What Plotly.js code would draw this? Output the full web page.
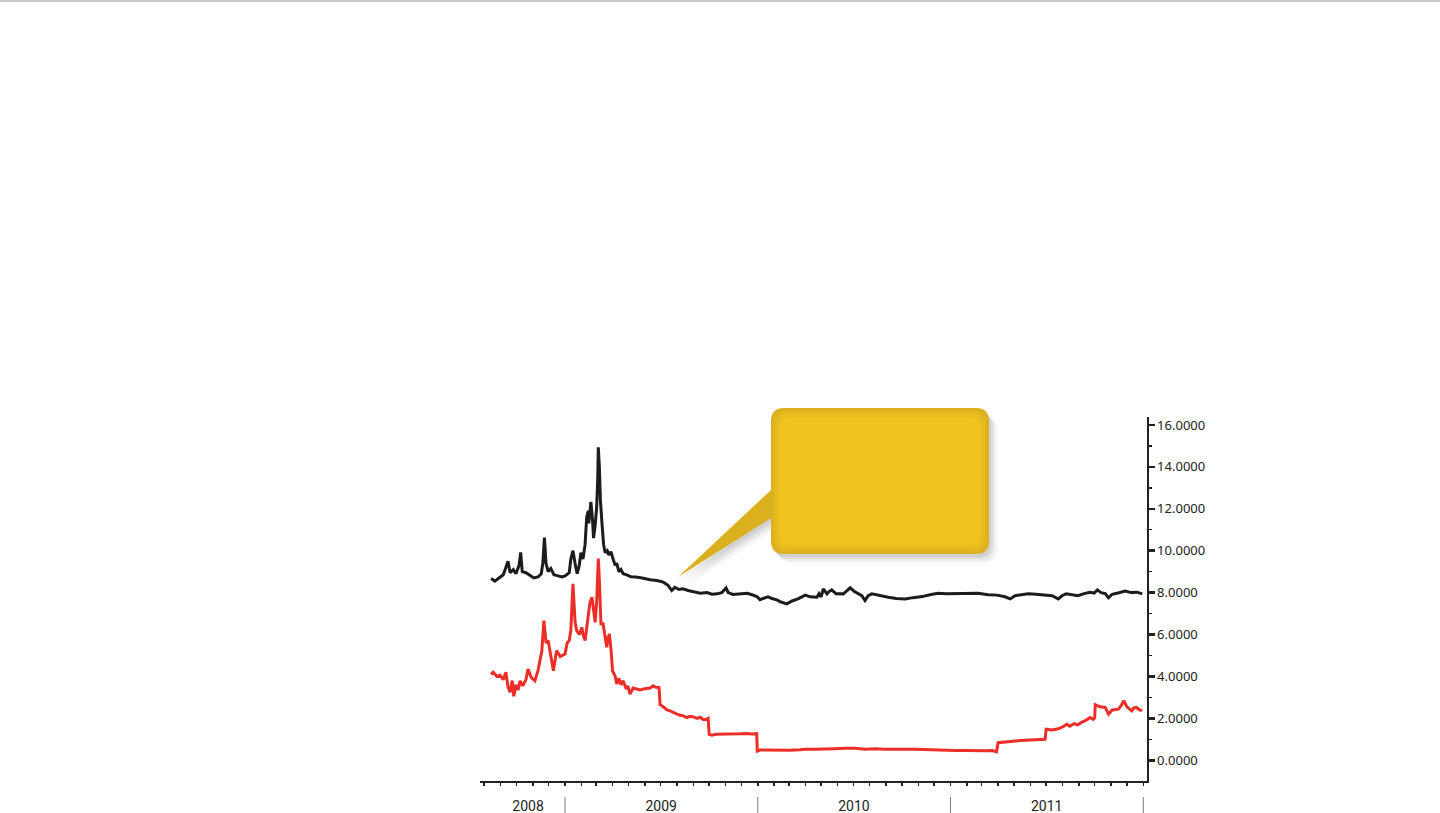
<!DOCTYPE html>
<html>
<head>
<meta charset="utf-8">
<script src="https://cdn.plot.ly/plotly-3.0.1.min.js"></script>
<style>
  html, body { margin: 0; padding: 0; background: #ffffff; }
  #topline { position: absolute; left: 0; top: 0; width: 1440px; height: 2px; background: #c9c9c9; z-index: 5; }
  #chart { width: 1440px; height: 813px; }
</style>
</head>
<body>
<div id="topline"></div>
<div id="chart"></div>
<script>
// ---------- data ----------
const blackDates = [
  '2008-08-14','2008-08-21','2008-08-29','2008-09-06','2008-09-11','2008-09-15','2008-09-19','2008-09-25','2008-09-30','2008-10-06',
  '2008-10-09','2008-10-12','2008-10-19','2008-10-27','2008-11-03','2008-11-11','2008-11-17','2008-11-20','2008-11-23','2008-11-26',
  '2008-11-30','2008-12-05','2008-12-11','2008-12-19','2008-12-26','2009-01-01','2009-01-09','2009-01-12','2009-01-16','2009-01-20',
  '2009-01-24','2009-01-28','2009-01-31','2009-02-04','2009-02-08','2009-02-11','2009-02-14','2009-02-15','2009-02-19','2009-02-22',
  '2009-02-24','2009-02-27','2009-03-02','2009-03-04','2009-03-05','2009-03-07','2009-03-09','2009-03-12','2009-03-15','2009-03-18',
  '2009-03-22','2009-03-25','2009-03-29','2009-04-02','2009-04-06','2009-04-09','2009-04-13','2009-04-17','2009-04-21','2009-04-28',
  '2009-05-06','2009-05-15','2009-05-27','2009-06-11','2009-06-24','2009-07-06','2009-07-15','2009-07-22','2009-07-28','2009-08-05',
  '2009-08-12','2009-08-22','2009-08-31','2009-09-14','2009-09-27','2009-10-06','2009-10-16','2009-10-25','2009-11-02','2009-11-06',
  '2009-11-15','2009-11-28','2009-12-12','2009-12-21','2009-12-31','2010-01-05','2010-01-13','2010-01-20','2010-01-28','2010-02-06',
  '2010-02-14','2010-02-25','2010-03-07','2010-03-18','2010-04-01','2010-04-10','2010-04-23','2010-04-27','2010-05-01','2010-05-05',
  '2010-05-12','2010-05-16','2010-05-21','2010-05-29','2010-06-12','2010-06-19','2010-06-25','2010-07-03','2010-07-10','2010-07-17',
  '2010-07-23','2010-07-29','2010-08-05','2010-08-20','2010-09-05','2010-09-20','2010-10-07','2010-10-22','2010-11-08','2010-11-23',
  '2010-12-08','2010-12-24','2011-01-10','2011-01-29','2011-02-22','2011-03-13','2011-03-30','2011-04-14','2011-04-24','2011-05-03',
  '2011-05-17','2011-05-28','2011-06-12','2011-06-27','2011-07-12','2011-07-24','2011-07-31','2011-08-08','2011-08-19','2011-08-30',
  '2011-09-11','2011-09-22','2011-09-30','2011-10-06','2011-10-13','2011-10-21','2011-10-27','2011-11-03','2011-11-14','2011-11-28',
  '2011-12-09','2011-12-20','2011-12-30'
];
const blackValues = [
  8.67, 8.55, 8.70, 8.85, 9.20, 9.50, 8.95, 9.10, 8.90, 9.30,
  9.92, 9.00, 8.95, 8.80, 8.70, 8.75, 8.90, 9.40, 10.62, 9.40,
  9.00, 9.15, 8.85, 8.80, 8.75, 8.80, 8.95, 9.60, 10.00, 9.40,
  8.90, 9.30, 9.90, 9.60, 10.30, 11.60, 11.90, 11.30, 12.33, 11.50,
  10.60, 11.20, 12.10, 13.50, 14.93, 14.00, 12.40, 11.30, 10.30, 9.90,
  10.00, 9.80, 9.95, 9.60, 9.30, 9.40, 9.00, 9.10, 8.90, 8.85,
  8.75, 8.74, 8.70, 8.61, 8.58, 8.50, 8.35, 8.10, 8.25, 8.15,
  8.18, 8.10, 8.05, 7.97, 8.00, 7.92, 7.94, 8.00, 8.22, 8.00,
  7.91, 7.95, 7.97, 7.90, 7.80, 7.66, 7.72, 7.80, 7.72, 7.65,
  7.55, 7.46, 7.60, 7.70, 7.88, 7.80, 7.78, 7.95, 7.80, 8.18,
  7.94, 8.05, 8.13, 7.95, 7.94, 8.10, 8.23, 8.05, 7.94, 7.85,
  7.62, 7.85, 7.94, 7.85, 7.78, 7.72, 7.70, 7.76, 7.81, 7.90,
  7.97, 7.94, 7.94, 7.97, 7.97, 7.90, 7.88, 7.80, 7.70, 7.85,
  7.90, 7.94, 7.92, 7.88, 7.85, 7.70, 7.85, 7.94, 7.90, 7.85,
  7.95, 8.02, 7.98, 8.13, 8.00, 7.95, 7.75, 7.92, 7.98, 8.07,
  8.00, 8.02, 7.94
];
const redDates = [
  '2008-08-14','2008-08-18','2008-08-25','2008-08-31','2008-09-06','2008-09-11','2008-09-15','2008-09-19','2008-09-23','2008-09-26',
  '2008-09-30','2008-10-04','2008-10-08','2008-10-13','2008-10-19','2008-10-23','2008-10-29','2008-11-05','2008-11-11','2008-11-15',
  '2008-11-18','2008-11-22','2008-11-26','2008-11-30','2008-12-04','2008-12-10','2008-12-16','2008-12-23','2009-01-01','2009-01-05',
  '2009-01-09','2009-01-12','2009-01-16','2009-01-20','2009-01-23','2009-01-28','2009-02-02','2009-02-04','2009-02-08','2009-02-12',
  '2009-02-14','2009-02-17','2009-02-21','2009-02-23','2009-02-27','2009-03-02','2009-03-04','2009-03-05','2009-03-07','2009-03-10',
  '2009-03-14','2009-03-18','2009-03-21','2009-03-23','2009-03-26','2009-03-29','2009-04-01','2009-04-06','2009-04-09','2009-04-13',
  '2009-04-17','2009-04-21','2009-04-27','2009-04-30','2009-05-04','2009-05-10','2009-05-17','2009-05-23','2009-05-29','2009-06-05',
  '2009-06-11','2009-06-17','2009-06-22','2009-06-28','2009-06-30','2009-07-06','2009-07-13','2009-07-19','2009-07-25','2009-08-01',
  '2009-08-07','2009-08-13','2009-08-20','2009-08-26','2009-09-01','2009-09-08','2009-09-14','2009-09-19','2009-09-26','2009-09-29',
  '2009-10-01','2009-10-06','2009-10-14','2009-10-22','2009-11-03','2009-11-15','2009-11-28','2009-12-10','2009-12-21','2009-12-30',
  '2009-12-31','2010-01-05','2010-01-24','2010-02-12','2010-03-03','2010-03-22','2010-04-01','2010-04-19','2010-05-08','2010-05-27',
  '2010-06-15','2010-07-04','2010-07-23','2010-08-11','2010-08-30','2010-09-18','2010-10-07','2010-10-26','2010-11-14','2010-12-03',
  '2010-12-22','2011-01-10','2011-01-29','2011-02-17','2011-03-07','2011-03-21','2011-03-29','2011-04-01','2011-04-14','2011-04-27',
  '2011-05-12','2011-05-31','2011-06-19','2011-06-29','2011-07-01','2011-07-12','2011-07-24','2011-08-02','2011-08-09','2011-08-15',
  '2011-08-23','2011-08-30','2011-09-07','2011-09-14','2011-09-22','2011-09-28','2011-10-01','2011-10-02','2011-10-11','2011-10-21',
  '2011-10-27','2011-11-03','2011-11-15','2011-11-20','2011-11-25','2011-12-01','2011-12-10','2011-12-14','2011-12-19','2011-12-25',
  '2011-12-30'
];
const redValues = [
  4.10, 4.20, 4.00, 4.05, 3.85, 4.20, 3.50, 3.25, 3.80, 3.05,
  3.60, 3.35, 3.79, 3.55, 3.85, 4.35, 3.95, 3.79, 4.30, 4.75,
  5.20, 6.66, 5.60, 5.71, 5.20, 4.27, 5.23, 4.95, 5.07, 5.60,
  5.71, 6.20, 8.42, 6.60, 6.19, 6.00, 6.34, 6.00, 5.71, 6.60,
  7.14, 7.50, 7.78, 7.40, 6.58, 7.60, 8.80, 9.62, 8.60, 6.51,
  6.51, 5.71, 5.39, 5.80, 6.03, 5.30, 4.27, 4.00, 3.64, 3.90,
  3.60, 3.79, 3.40, 3.55, 3.16, 3.45, 3.40, 3.35, 3.40, 3.42,
  3.45, 3.55, 3.48, 3.47, 2.65, 2.55, 2.40, 2.36, 2.28, 2.20,
  2.15, 2.12, 2.04, 2.10, 2.07, 2.00, 2.05, 1.95, 1.96, 2.00,
  1.24, 1.20, 1.24, 1.24, 1.24, 1.27, 1.26, 1.28, 1.25, 1.27,
  0.44, 0.49, 0.48, 0.50, 0.48, 0.50, 0.53, 0.52, 0.55, 0.55,
  0.57, 0.57, 0.53, 0.55, 0.53, 0.54, 0.53, 0.52, 0.50, 0.50,
  0.48, 0.46, 0.47, 0.45, 0.45, 0.46, 0.40, 0.84, 0.88, 0.92,
  0.94, 0.97, 0.99, 1.00, 1.48, 1.45, 1.50, 1.60, 1.72, 1.62,
  1.75, 1.69, 1.82, 1.90, 2.04, 1.95, 2.02, 2.65, 2.55, 2.52,
  2.20, 2.40, 2.44, 2.60, 2.84, 2.55, 2.36, 2.50, 2.52, 2.40,
  2.39
];
const yearLabels = ['2008', '2009', '2010', '2011'];
const yearLabelDates = ['2008-10-23', '2009-07-02', '2010-07-02', '2011-07-02'];
const yearBoundaries = ['2009-01-01', '2010-01-01', '2011-01-01', '2012-01-01'];

// ---------- layout geometry ----------
const W = 1440, H = 813;
const PL = 480, PR = 1147, PT = 417, PB = 781;
const px = x => (x - PL) / (PR - PL);
const py = y => (PB - y) / (PB - PT);

function bubblePath(L, T, R, B, r, dx, dy, withPointer) {
  const X = v => px(v + dx).toFixed(5);
  const Y = v => py(v + dy).toFixed(5);
  let p = 'M' + X(L + r) + ',' + Y(T) +
    ' L' + X(R - r) + ',' + Y(T) +
    ' Q' + X(R) + ',' + Y(T) + ' ' + X(R) + ',' + Y(T + r) +
    ' L' + X(R) + ',' + Y(B - r) +
    ' Q' + X(R) + ',' + Y(B) + ' ' + X(R - r) + ',' + Y(B) +
    ' L' + X(L + r) + ',' + Y(B) +
    ' Q' + X(L) + ',' + Y(B) + ' ' + X(L) + ',' + Y(B - r);
  if (withPointer) {
    p += ' L' + X(L) + ',' + Y(518) +
      ' L' + X(678) + ',' + Y(577) +
      ' L' + X(L) + ',' + Y(490);
  }
  p += ' L' + X(L) + ',' + Y(T + r) +
    ' Q' + X(L) + ',' + Y(T) + ' ' + X(L + r) + ',' + Y(T) + ' Z';
  return p;
}

const shapes = [];
// soft shadow
[[8, 9, 0.035], [6, 7, 0.045], [4, 5, 0.055], [2, 3, 0.06]].forEach(s => {
  shapes.push({type: 'path', xref: 'paper', yref: 'paper', layer: 'above',
    path: bubblePath(771, 408, 989, 554, 13, s[0], s[1], true),
    fillcolor: 'rgba(0,0,0,' + s[2] + ')', line: {width: 0}});
});
// bubble body: darker rim fading to a lighter centre
shapes.push({type: 'path', xref: 'paper', yref: 'paper', layer: 'above',
  path: bubblePath(771, 408, 989, 554, 13, 0, 0, true),
  fillcolor: '#dbb01f', line: {width: 0}});
[[2, '#e0b41f'], [4, '#e5b81f'], [6, '#e9bc1f'], [8, '#edc01f'], [10, '#f0c31f']].forEach(s => {
  const i = s[0];
  shapes.push({type: 'path', xref: 'paper', yref: 'paper', layer: 'above',
    path: bubblePath(771 + i, 408 + i, 989 - i, 554 - i, Math.max(13 - i * 0.5, 6), 0, 0, false),
    fillcolor: s[1], line: {width: 0}});
});

// year separators below the axis
yearBoundaries.forEach(d => {
  shapes.push({type: 'line', xref: 'x', yref: 'paper', x0: d, x1: d,
    y0: py(797), y1: py(813), line: {color: '#777777', width: 1}});
});

const traces = [
  {x: blackDates, y: blackValues, type: 'scatter', mode: 'lines',
   line: {color: '#1c1c1c', width: 3}, hoverinfo: 'skip'},
  {x: redDates, y: redValues, type: 'scatter', mode: 'lines',
   line: {color: '#ec2e28', width: 3}, hoverinfo: 'skip'}
];

const layout = {
  width: W, height: H, autosize: false,
  margin: {l: PL, r: W - PR, t: PT, b: H - PB, pad: 0},
  paper_bgcolor: '#ffffff', plot_bgcolor: '#ffffff',
  showlegend: false,
  xaxis: {
    type: 'date',
    range: ['2008-07-24', '2012-01-08'],
    showgrid: false, zeroline: false,
    showline: true, linecolor: '#222222', linewidth: 1.5,
    tickmode: 'array', tickvals: yearLabelDates, ticktext: yearLabels,
    ticks: '', ticklabelstandoff: 12,
    tickfont: {family: '"Liberation Sans Narrow", Roboto, "Open Sans", sans-serif', size: 14, color: '#222222'},
    minor: {tickmode: 'linear', tick0: '2008-01-01', dtick: 'M1', ticks: 'outside',
            ticklen: 3, tickwidth: 1.5, tickcolor: '#222222', showgrid: false}
  },
  yaxis: {
    side: 'right',
    range: [-0.99, 16.38],
    showgrid: false, zeroline: false,
    showline: true, linecolor: '#222222', linewidth: 1.5,
    tickmode: 'linear', tick0: 0, dtick: 2, tickformat: '.4f',
    ticks: 'outside', ticklen: 6, tickwidth: 2.5, tickcolor: '#222222',
    tickfont: {family: '"Noto Sans", "Open Sans", sans-serif', size: 13, color: '#222222'},
    minor: {tickmode: 'linear', tick0: 1, dtick: 1, ticks: 'outside',
            ticklen: 3, tickwidth: 1.5, tickcolor: '#222222', showgrid: false}
  },
  shapes: shapes
};

Plotly.newPlot('chart', traces, layout, {staticPlot: true, displayModeBar: false});
</script>
</body>
</html>
